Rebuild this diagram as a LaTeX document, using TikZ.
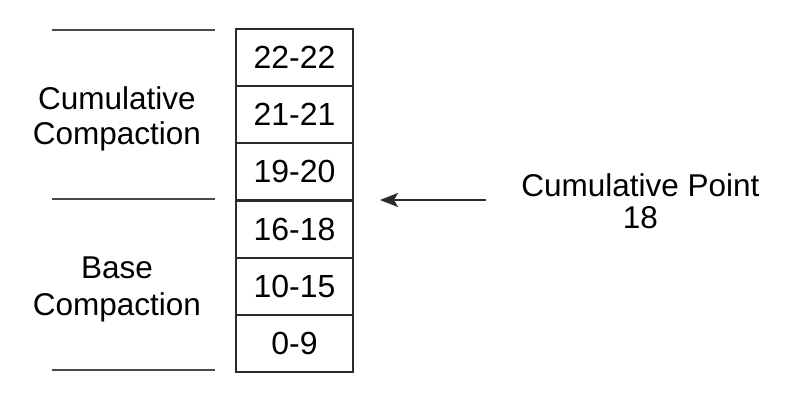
\documentclass[tikz,border=0pt]{standalone}
\usepackage{fontspec}
\setmainfont{Liberation Sans}
\usetikzlibrary{arrows.meta}
\definecolor{ink}{HTML}{2B2B2B}
\definecolor{rule}{HTML}{4A4A4A}
\tikzset{
  cell/.style={draw=ink, line width=2.1pt, minimum width=117pt, minimum height=57.17pt, inner sep=0pt, outer sep=0pt, text=black, font=\fontsize{32}{36}\selectfont},
  lbl/.style={align=center, inner sep=0pt, text=black},
  sep/.style={draw=rule, line width=2.2pt},
  ptr/.style={draw=ink, line width=1.8pt, -{Stealth[length=18pt,width=14pt,inset=4pt]}}
}
\begin{document}
\begin{tikzpicture}[x=1pt,y=-1pt]
\useasboundingbox (0,0) rectangle (788,416);
% stack of cells
\foreach \t [count=\i from 0] in {22-22,21-21,19-20,16-18,10-15,0-9}{
  \node[cell, anchor=north west] (c\i) at (236, 29+\i*57.17) {\raisebox{-3pt}{\t}};
}
% separator lines
\coordinate (s1a) at (52,30);  \coordinate (s1b) at (215,30);
\coordinate (s2a) at (52,199); \coordinate (s2b) at (215,199);
\coordinate (s3a) at (52,370); \coordinate (s3b) at (215,370);
\draw[sep] (s1a) -- (s1b);
\draw[sep] (s2a) -- (s2b);
\draw[sep] (s3a) -- (s3b);
% labels
\node[lbl, anchor=base, font=\fontsize{31.5}{35}\selectfont] (cc) at (117,144) {Cumulative\\Compaction};
\node[lbl, anchor=base, font=\fontsize{31.5}{37.4}\selectfont] (bc) at (117,315.7) {Base\\Compaction};
\node[lbl, anchor=base, font=\fontsize{31.5}{31.6}\selectfont] (cp) at (640.5,228.3) {Cumulative Point\\18};
% pointer
\coordinate (pstart) at (486,200);
\coordinate (pend) at (380,200);
\draw[ptr] (pstart) -- (pend);
\end{tikzpicture}
\end{document}
